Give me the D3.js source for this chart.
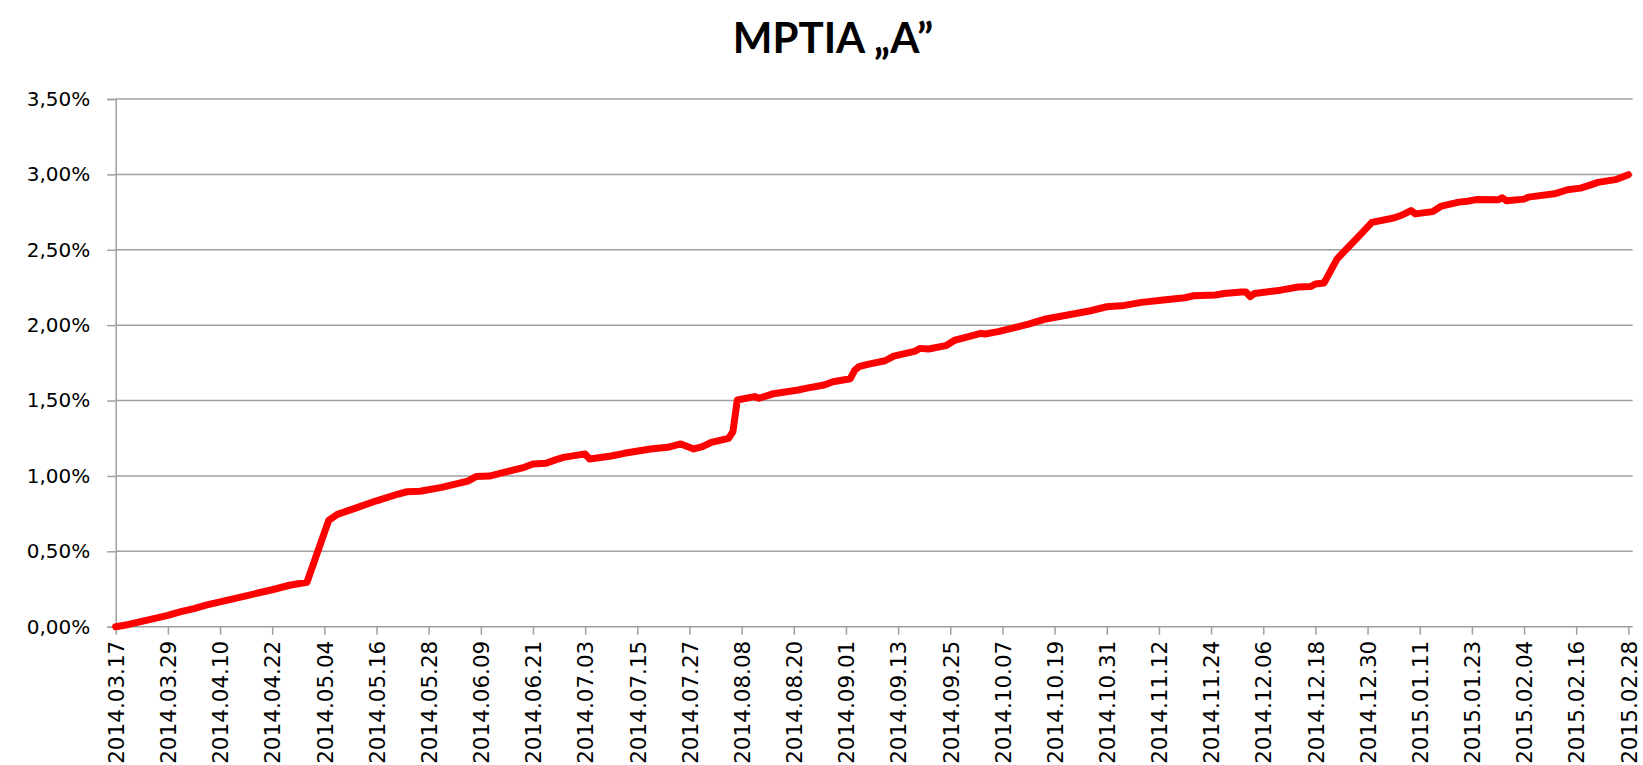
<!DOCTYPE html>
<html>
<head>
<meta charset="utf-8">
<script src="https://cdn.jsdelivr.net/npm/d3@7"></script>
<style>
  body { margin: 0; background: #fff; }
  svg { display: block; }
  .grid line { stroke: #a0a0a0; stroke-width: 1.5; }
  .axis path, .axis line { stroke: #a0a0a0; stroke-width: 1.5; }
  .axis text { fill: #000; font-family: "DejaVu Sans", sans-serif; }
  .title { font-family: Lato, "Open Sans", sans-serif; font-weight: bold; font-size: 42px; }
</style>
</head>
<body>
<svg id="chart" width="1643" height="765"></svg>
<script>
const title = "MPTIA \u201EA\u201D";

// x axis labels, every 12 days
const tickLabels = [
  "2014.03.17", "2014.03.29", "2014.04.10", "2014.04.22", "2014.05.04", "2014.05.16",
  "2014.05.28", "2014.06.09", "2014.06.21", "2014.07.03", "2014.07.15", "2014.07.27",
  "2014.08.08", "2014.08.20", "2014.09.01", "2014.09.13", "2014.09.25", "2014.10.07",
  "2014.10.19", "2014.10.31", "2014.11.12", "2014.11.24", "2014.12.06", "2014.12.18",
  "2014.12.30", "2015.01.11", "2015.01.23", "2015.02.04", "2015.02.16", "2015.02.28"
];

const yTicks = [0, 0.5, 1, 1.5, 2, 2.5, 3, 3.5];

// dates and yields (%)
const dates = [
  "2014.03.17", "2014.03.20", "2014.03.23", "2014.03.26", "2014.03.29", "2014.04.01",
  "2014.04.04", "2014.04.07", "2014.04.10", "2014.04.13", "2014.04.16", "2014.04.19",
  "2014.04.22", "2014.04.24", "2014.04.26", "2014.04.30", "2014.05.05", "2014.05.07",
  "2014.05.11", "2014.05.16", "2014.05.21", "2014.05.23", "2014.05.26", "2014.05.31",
  "2014.06.06", "2014.06.08", "2014.06.11", "2014.06.13", "2014.06.19", "2014.06.21",
  "2014.06.24", "2014.06.26", "2014.06.28", "2014.07.03", "2014.07.04", "2014.07.09",
  "2014.07.12", "2014.07.18", "2014.07.22", "2014.07.25", "2014.07.28", "2014.07.30",
  "2014.08.01", "2014.08.05", "2014.08.06", "2014.08.07", "2014.08.11", "2014.08.12",
  "2014.08.15", "2014.08.21", "2014.08.23", "2014.08.27", "2014.08.29", "2014.09.02",
  "2014.09.03", "2014.09.04", "2014.09.06", "2014.09.10", "2014.09.12", "2014.09.17",
  "2014.09.18", "2014.09.20", "2014.09.24", "2014.09.26", "2014.09.29", "2014.10.02",
  "2014.10.03", "2014.10.06", "2014.10.10", "2014.10.13", "2014.10.17", "2014.10.22",
  "2014.10.27", "2014.10.31", "2014.11.04", "2014.11.08", "2014.11.13", "2014.11.18",
  "2014.11.20", "2014.11.25", "2014.11.27", "2014.12.01", "2014.12.02", "2014.12.03",
  "2014.12.04", "2014.12.10", "2014.12.14", "2014.12.17", "2014.12.18", "2014.12.20",
  "2014.12.23", "2014.12.26", "2014.12.29", "2014.12.31", "2015.01.05", "2015.01.07",
  "2015.01.09", "2015.01.10", "2015.01.14", "2015.01.16", "2015.01.20", "2015.01.22",
  "2015.01.24", "2015.01.29", "2015.01.30", "2015.01.31", "2015.02.04", "2015.02.05",
  "2015.02.11", "2015.02.14", "2015.02.17", "2015.02.19", "2015.02.21", "2015.02.25",
  "2015.02.28"
];

const values = [
  0.000, 0.015, 0.035, 0.055, 0.075, 0.100,
  0.120, 0.145, 0.165, 0.185, 0.205, 0.225,
  0.245, 0.260, 0.275, 0.295, 0.705, 0.745,
  0.785, 0.835, 0.880, 0.895, 0.898, 0.924,
  0.966, 0.997, 0.999, 1.013, 1.057, 1.079,
  1.084, 1.105, 1.123, 1.146, 1.112, 1.132,
  1.150, 1.179, 1.190, 1.212, 1.179, 1.194,
  1.223, 1.249, 1.294, 1.504, 1.526, 1.515,
  1.543, 1.570, 1.582, 1.603, 1.625, 1.645,
  1.700, 1.725, 1.740, 1.764, 1.795, 1.828,
  1.846, 1.842, 1.864, 1.900, 1.922, 1.946,
  1.941, 1.957, 1.985, 2.007, 2.041, 2.067,
  2.094, 2.122, 2.131, 2.151, 2.167, 2.182,
  2.195, 2.200, 2.210, 2.220, 2.220, 2.190,
  2.210, 2.232, 2.253, 2.257, 2.273, 2.280,
  2.440, 2.530, 2.620, 2.682, 2.711, 2.731,
  2.760, 2.738, 2.753, 2.790, 2.816, 2.822,
  2.833, 2.831, 2.845, 2.825, 2.836, 2.849,
  2.871, 2.898, 2.909, 2.927, 2.947, 2.965,
  2.998
];

const parse = d3.timeParse("%Y.%m.%d");
const fmt = d3.timeFormat("%Y.%m.%d");
const data = dates.map((d, i) => ({ date: parse(d), value: values[i] }));

const svg = d3.select("#chart");
const plotLeft = 115.7, plotRight = 1632.7, plotTop = 99, plotBottom = 626.7;

// plot runs one day past the last date, like the spreadsheet date axis
const x = d3.scaleTime()
  .domain([parse(tickLabels[0]), d3.timeDay.offset(parse(tickLabels[tickLabels.length - 1]), 1)])
  .range([plotLeft, plotRight]);

const y = d3.scaleLinear()
  .domain([0, 3.5])
  .range([plotBottom, plotTop]);

svg.append("text")
  .attr("class", "title")
  .attr("x", 833)
  .attr("y", 53)
  .attr("text-anchor", "middle")
  .text(title);

// horizontal gridlines
svg.append("g")
  .attr("class", "grid")
  .selectAll("line")
  .data(yTicks.filter(d => d > 0))
  .join("line")
  .attr("x1", plotLeft)
  .attr("x2", plotRight)
  .attr("y1", d => y(d))
  .attr("y2", d => y(d));

const yAxis = svg.append("g")
  .attr("class", "axis")
  .attr("transform", `translate(${plotLeft},0)`)
  .call(d3.axisLeft(y)
    .tickValues(yTicks)
    .tickSize(8.5)
    .tickPadding(17)
    .tickFormat(d => d3.format(".2f")(d).replace(".", ",") + "%"));
yAxis.selectAll("text").style("font-size", "20px");

const xAxis = svg.append("g")
  .attr("class", "axis")
  .attr("transform", `translate(0,${plotBottom})`)
  .call(d3.axisBottom(x)
    .tickValues(tickLabels.map(parse))
    .tickSize(8)
    .tickFormat(fmt));
xAxis.select(".domain").attr("d", `M${plotLeft},0H${plotRight}`);
xAxis.selectAll("text")
  .style("font-size", "21.5px")
  .attr("transform", "rotate(-90)")
  .attr("text-anchor", "end")
  .attr("x", -14)
  .attr("y", 0)
  .attr("dy", "0.36em");

const line = d3.line()
  .x(d => x(d.date))
  .y(d => y(d.value));

svg.append("path")
  .datum(data)
  .attr("fill", "none")
  .attr("stroke", "#ff0000")
  .attr("stroke-width", 7)
  .attr("stroke-linejoin", "round")
  .attr("stroke-linecap", "round")
  .attr("d", line);
</script>
</body>
</html>
